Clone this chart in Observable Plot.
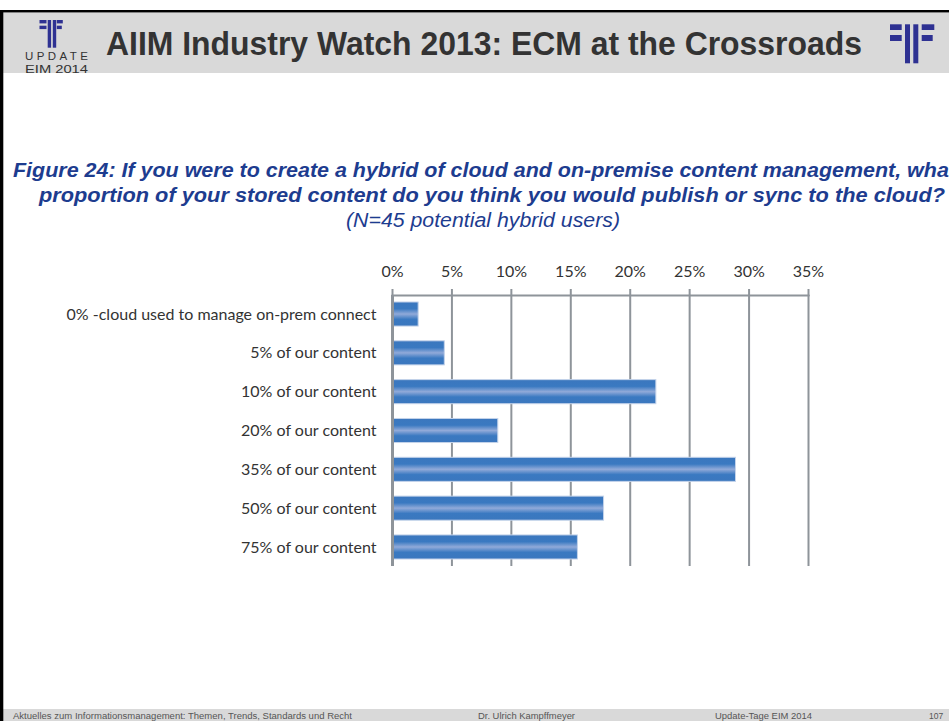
<!DOCTYPE html>
<html>
<head>
<meta charset="utf-8">
<script src="https://cdn.jsdelivr.net/npm/d3@7"></script>
<script src="https://cdn.jsdelivr.net/npm/@observablehq/plot@0.6"></script>
<style>
  html, body { margin: 0; padding: 0; background: #fff; }
  #page { position: relative; width: 949px; height: 721px; overflow: hidden; background: #fff; }
  #deco { position: absolute; left: 0; top: 0; }
  #chart { position: absolute; left: 0; top: 250px; }
</style>
</head>
<body>
<div id="page">
  <svg id="deco" width="949" height="721" xmlns="http://www.w3.org/2000/svg">
    <!-- frame & header/footer bands -->
    <rect x="0" y="12" width="949" height="61" fill="#d9d9d9"/>
    <rect x="0" y="10" width="949" height="2.4" fill="#000"/>
    <rect x="0" y="709" width="949" height="12" fill="#d9d9d9"/>
    <rect x="0" y="10" width="3.3" height="711" fill="#000"/>
    <!-- left logo -->
    <g fill="#2e3192">
      <rect x="39.5" y="20" width="7" height="3.4"/>
      <rect x="39.5" y="25.7" width="7" height="3.4"/>
      <rect x="47.7" y="20" width="3.4" height="27.7"/>
      <rect x="52.8" y="20" width="3.4" height="27.7"/>
      <rect x="56.8" y="20" width="6" height="3.4"/>
      <rect x="56.8" y="25.7" width="5" height="3.4"/>
    </g>
    <text x="25" y="59.5" font-family="Liberation Sans, Arial, sans-serif" font-size="11.5" fill="#333" textLength="63" lengthAdjust="spacing">UPDATE</text>
    <text x="25" y="72.5" font-family="Liberation Sans, Arial, sans-serif" font-size="11.5" fill="#333" textLength="63" lengthAdjust="spacingAndGlyphs">EIM 2014</text>
    <!-- right logo -->
    <g fill="#2e3192">
      <rect x="890" y="24.3" width="11.7" height="5.7"/>
      <rect x="890" y="35" width="11.7" height="6"/>
      <rect x="905" y="24.3" width="5" height="39"/>
      <rect x="913.3" y="24.3" width="5" height="39"/>
      <rect x="921.7" y="24.3" width="12.6" height="5.7"/>
      <rect x="921.7" y="35" width="11" height="6"/>
    </g>
    <!-- header title -->
    <text x="106" y="55" font-family="Liberation Sans, Arial, sans-serif" font-weight="bold" font-size="33" fill="#333333" textLength="756" lengthAdjust="spacingAndGlyphs">AIIM Industry Watch 2013: ECM at the Crossroads</text>
    <!-- figure caption -->
    <g font-family="Liberation Sans, Arial, sans-serif" font-style="italic" font-size="19.5" fill="#1d3c8f">
      <text x="13" y="177" font-weight="bold" textLength="943" lengthAdjust="spacingAndGlyphs">Figure 24: If you were to create a hybrid of cloud and on-premise content management, what</text>
      <text x="39" y="202" font-weight="bold" textLength="906" lengthAdjust="spacingAndGlyphs">proportion of your stored content do you think you would publish or sync to the cloud?</text>
      <text x="346" y="227" textLength="274" lengthAdjust="spacingAndGlyphs">(N=45 potential hybrid users)</text>
    </g>
    <!-- footer -->
    <g font-family="Liberation Sans, Arial, sans-serif" font-size="8.5" fill="#555">
      <text x="13" y="718.5" textLength="339" lengthAdjust="spacingAndGlyphs">Aktuelles zum Informationsmanagement: Themen, Trends, Standards und Recht</text>
      <text x="478" y="718.5" textLength="97" lengthAdjust="spacingAndGlyphs">Dr. Ulrich Kampffmeyer</text>
      <text x="715" y="718.5" textLength="97" lengthAdjust="spacingAndGlyphs">Update-Tage EIM 2014</text>
      <text x="929" y="718.5">107</text>
    </g>
  </svg>
  <div id="chart"></div>
</div>
<script>
const categories = [
  "0% -cloud used to manage on-prem connect",
  "5% of our content",
  "10% of our content",
  "20% of our content",
  "35% of our content",
  "50% of our content",
  "75% of our content"
];
const values = [2.2, 4.4, 22.2, 8.9, 28.9, 17.8, 15.6];
const xTicks = [0, 5, 10, 15, 20, 25, 30, 35];

const data = categories.map((c, i) => ({category: c, value: values[i]}));
const gridColor = "#8e949a";

const chart = Plot.plot({
  width: 949,
  height: 330,
  marginTop: 45,
  marginBottom: 14,
  marginLeft: 392,
  marginRight: 141,
  style: {fontFamily: "Lato, 'Open Sans', sans-serif", fontSize: "16px", background: "transparent", color: "#333"},
  x: {domain: [0, 35], ticks: xTicks},
  y: {domain: categories, paddingInner: 0.38, paddingOuter: 0.18, round: false},
  marks: [
    Plot.gridX(xTicks, {stroke: gridColor, strokeOpacity: 1, strokeWidth: 2}),
    Plot.frame({anchor: "top", stroke: gridColor, strokeWidth: 2}),
    Plot.barX(data, {x: "value", y: "category", fill: "url(#barGrad)", stroke: "#c4d3ea", strokeWidth: 1}),
    Plot.ruleX([0], {stroke: gridColor, strokeWidth: 3}),
    Plot.axisX(xTicks, {anchor: "top", tickSize: 7, tickPadding: 12, tickFormat: d => d + "%", stroke: gridColor, strokeWidth: 2, fill: "#333", label: null}),
    Plot.axisY({tickSize: 0, tickPadding: 16, fill: "#333", label: null})
  ]
});

d3.select(chart).insert("defs", ":first-child").html(`
  <linearGradient id="barGrad" x1="0" y1="0" x2="0" y2="1">
    <stop offset="0" stop-color="#3b77be"/>
    <stop offset="0.28" stop-color="#3a79c1"/>
    <stop offset="0.5" stop-color="#91aad9"/>
    <stop offset="0.72" stop-color="#3a79c1"/>
    <stop offset="1" stop-color="#3b77be"/>
  </linearGradient>`);

document.getElementById("chart").appendChild(chart);
</script>
</body>
</html>
